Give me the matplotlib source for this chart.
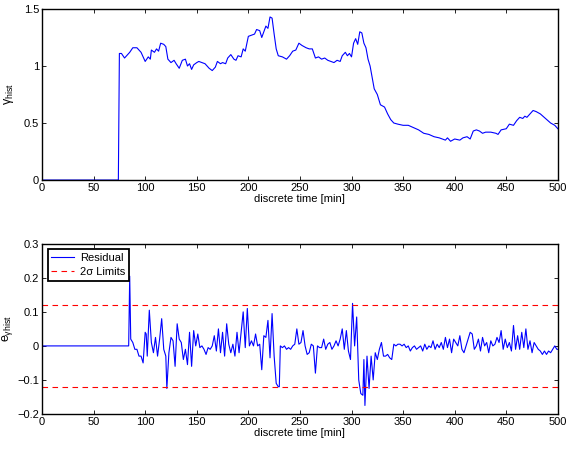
import matplotlib
matplotlib.use("Agg")
import matplotlib.pyplot as plt

# gamma_hist estimate (top panel)
t_gamma = [0, 74, 75, 77, 80, 85, 88, 92, 96, 100, 103, 105, 106, 109, 111, 113, 115, 118, 120,
           122, 125, 128, 130, 133, 136, 139, 141, 143, 145, 147, 150, 152, 155, 158, 162, 165,
           168, 170, 173, 175, 178, 180, 183, 186, 188, 190, 193, 195, 197, 200, 203, 206, 208,
           211, 213, 215, 217, 219, 221, 223, 225, 227, 229, 233, 237, 240, 243, 246, 249, 252,
           256, 259, 262, 265, 268, 271, 274, 277, 280, 283, 286, 289, 291, 294, 296, 298, 300,
           302, 304, 306, 308, 310, 312, 314, 316, 318, 320, 322, 325, 328, 332, 335, 338, 341,
           345, 350, 355, 360, 365, 370, 375, 380, 385, 388, 391, 393, 396, 400, 405, 408, 412,
           415, 418, 421, 424, 427, 430, 435, 440, 442, 445, 450, 453, 457, 460, 463, 466, 468,
           470, 473, 476, 479, 483, 488, 493, 497, 500]
gamma = [0, 0, 1.11, 1.11, 1.07, 1.12, 1.16, 1.16, 1.12, 1.04, 1.08, 1.06, 1.14, 1.12, 1.15, 1.13,
         1.20, 1.19, 1.17, 1.06, 1.03, 1.05, 1.02, 0.98, 1.05, 1.06, 1.00, 1.02, 0.97, 1.01, 1.03,
         1.04, 1.03, 1.02, 0.98, 0.96, 0.99, 1.04, 1.02, 1.03, 1.02, 1.07, 1.10, 1.06, 1.05, 1.09,
         1.08, 1.15, 1.13, 1.26, 1.27, 1.28, 1.32, 1.31, 1.25, 1.30, 1.35, 1.33, 1.43, 1.42, 1.28,
         1.15, 1.09, 1.08, 1.06, 1.09, 1.13, 1.14, 1.20, 1.18, 1.16, 1.15, 1.15, 1.07, 1.08, 1.06,
         1.07, 1.05, 1.04, 1.03, 1.05, 1.04, 1.09, 1.12, 1.09, 1.11, 1.08, 1.20, 1.24, 1.19, 1.30,
         1.29, 1.20, 1.16, 1.06, 1.00, 0.90, 0.80, 0.75, 0.66, 0.64, 0.58, 0.53, 0.50, 0.49, 0.48,
         0.48, 0.46, 0.44, 0.41, 0.40, 0.38, 0.37, 0.36, 0.35, 0.37, 0.34, 0.36, 0.35, 0.37, 0.38,
         0.36, 0.43, 0.44, 0.43, 0.41, 0.42, 0.42, 0.41, 0.40, 0.44, 0.45, 0.49, 0.48, 0.52, 0.55,
         0.54, 0.56, 0.55, 0.58, 0.61, 0.60, 0.58, 0.54, 0.50, 0.48, 0.45]

# residual (bottom panel)
t_res = [0, 84, 85, 86, 88, 90, 92, 94, 96, 98, 100, 101, 102, 104, 106, 108, 110, 112, 114, 116,
         118, 120, 121, 123, 125, 127, 129, 131, 133, 135, 137, 139, 141, 143, 145, 147, 149, 151,
         153, 155, 157, 159, 161, 163, 165, 167, 169, 171, 173, 175, 177, 179, 181, 183, 185, 187,
         189, 191, 193, 195, 197, 199, 201, 203, 205, 207, 209, 211, 213, 215, 217, 219, 221, 223,
         225, 227, 229, 230, 231, 233, 235, 237, 239, 241, 243, 245, 247, 249, 251, 253, 255, 257,
         259, 261, 263, 265, 267, 269, 271, 273, 275, 277, 279, 281, 283, 285, 287, 289, 291, 293,
         295, 297, 299, 301, 303, 305, 307, 309, 311, 312, 313, 315, 317, 319, 321, 323, 325, 327,
         329, 331, 333, 335, 337, 339, 341, 343, 345, 347, 349, 351, 353, 355, 357, 359, 361, 363,
         365, 367, 369, 371, 373, 375, 377, 379, 381, 383, 385, 387, 389, 391, 393, 395, 397, 399,
         401, 403, 405, 407, 409, 411, 413, 415, 417, 419, 421, 423, 425, 427, 429, 431, 433, 435,
         437, 439, 441, 443, 445, 447, 449, 451, 453, 455, 457, 459, 461, 463, 465, 467, 469, 471,
         473, 475, 477, 479, 481, 483, 485, 487, 489, 491, 493, 495, 497, 499, 500]
residual = [0, 0, 0.205, 0.02, 0.01, -0.01, -0.01, -0.03, -0.03, -0.05, 0.04, 0.035, -0.03, 0.105,
            0.01, -0.02, 0.025, -0.03, 0.02, 0.08, -0.01, -0.03, -0.125, -0.02, 0.025, 0.015, -0.06,
            0.065, 0.02, 0.01, -0.04, -0.01, -0.055, 0.04, -0.06, 0.045, 0.0, 0.035, -0.005, 0.0,
            -0.01, -0.025, -0.005, -0.01, 0.0, 0.03, -0.015, 0.05, -0.02, 0.04, -0.03, 0.065, 0.005,
            -0.02, 0.005, -0.03, 0.04, -0.02, 0.04, 0.1, -0.005, 0.11, 0.0, 0.015, 0.0, 0.035, 0.0,
            0.005, -0.07, 0.03, 0.025, 0.075, -0.035, 0.095, -0.03, -0.11, -0.12, -0.12, 0.0,
            -0.005, 0.0, -0.01, -0.005, -0.01, 0.0, 0.005, 0.05, 0.005, 0.01, 0.045, 0.0, -0.025,
            -0.02, 0.005, 0.0, -0.08, 0.0, -0.005, -0.005, 0.02, -0.01, 0.005, 0.01, -0.01, 0.0,
            0.015, 0.0, 0.02, 0.05, -0.01, 0.045, -0.015, -0.04, 0.125, 0.0, 0.085, -0.1, -0.14,
            -0.145, -0.04, -0.175, -0.03, -0.125, -0.03, -0.1, -0.02, -0.04, -0.01, 0.01, -0.03,
            -0.03, -0.025, -0.035, -0.04, 0.005, 0.0, 0.005, 0.005, 0.0, 0.005, -0.005, 0.0, -0.015,
            -0.005, 0.0, -0.01, -0.005, 0.0, -0.015, 0.005, -0.01, 0.0, -0.005, 0.015, -0.01, 0.005,
            -0.005, 0.01, -0.01, 0.025, -0.005, 0.02, -0.02, 0.02, 0.01, 0.0, 0.03, -0.01, -0.02,
            0.0, 0.02, 0.04, 0.035, -0.01, 0.0, 0.02, -0.015, 0.025, 0.0, 0.01, -0.02, 0.015, 0.0,
            0.005, 0.025, 0.01, 0.045, -0.01, 0.02, -0.005, 0.01, -0.015, 0.06, -0.01, 0.03, -0.01,
            0.04, -0.005, 0.05, -0.01, 0.015, -0.02, 0.01, 0.0, -0.01, -0.015, -0.025, -0.015,
            -0.025, -0.015, -0.02, -0.01, 0.0, -0.01, -0.01]

sigma2 = 0.12

plt.rcParams["font.family"] = ["Liberation Sans", "DejaVu Sans"]
plt.rcParams["font.size"] = 8
plt.rcParams["mathtext.fontset"] = "custom"
plt.rcParams["mathtext.rm"] = "Liberation Sans"
plt.rcParams["mathtext.it"] = "Liberation Sans"


def style_axes(ax):
    ax.tick_params(direction="in", top=True, right=True, length=3, width=0.6, labelsize=8, pad=2)
    for s in ax.spines.values():
        s.set_linewidth(1.0)
    ax.set_xlabel("discrete time [min]", labelpad=1)


fig = plt.figure(figsize=(5.7, 4.49), dpi=100)

ax1 = fig.add_axes([0.0737, 0.599, 0.905, 0.381])
ax1.plot(t_gamma, gamma, color="#0000ff", lw=0.8)
ax1.set_xlim(0, 500)
ax1.set_ylim(0, 1.5)
ax1.set_xticks(range(0, 501, 50))
ax1.set_yticks([0, 0.5, 1, 1.5])
ax1.set_yticklabels(["0", "0.5", "1", "1.5"])
ax1.set_ylabel(r"$\gamma_{hist}$", labelpad=6, fontsize=9)
style_axes(ax1)

ax2 = fig.add_axes([0.0737, 0.078, 0.905, 0.379])
ax2.plot(t_res, residual, color="#0000ff", lw=0.8, label="Residual")
ax2.axhline(sigma2, color="#ff0000", ls=(0, (5, 4)), lw=0.8, label="2σ Limits")
ax2.axhline(-sigma2, color="#ff0000", ls=(0, (5, 4)), lw=0.8)
ax2.set_xlim(0, 500)
ax2.set_ylim(-0.2, 0.3)
ax2.set_xticks(range(0, 501, 50))
ax2.set_yticks([-0.2, -0.1, 0, 0.1, 0.2, 0.3])
ax2.set_yticklabels(["\u22120.2", "\u22120.1", "0", "0.1", "0.2", "0.3"])
ax2.set_ylabel(r"$e_{\gamma hist}$", labelpad=2, fontsize=9)
style_axes(ax2)
leg = ax2.legend(loc="upper left", fancybox=False, framealpha=1, edgecolor="black",
                 borderaxespad=0.5, handlelength=2.0, borderpad=0.35, labelspacing=0.35,
                 handletextpad=0.6, fontsize=8)
leg.get_frame().set_linewidth(1.3)

fig.savefig("out.png", dpi=100)
